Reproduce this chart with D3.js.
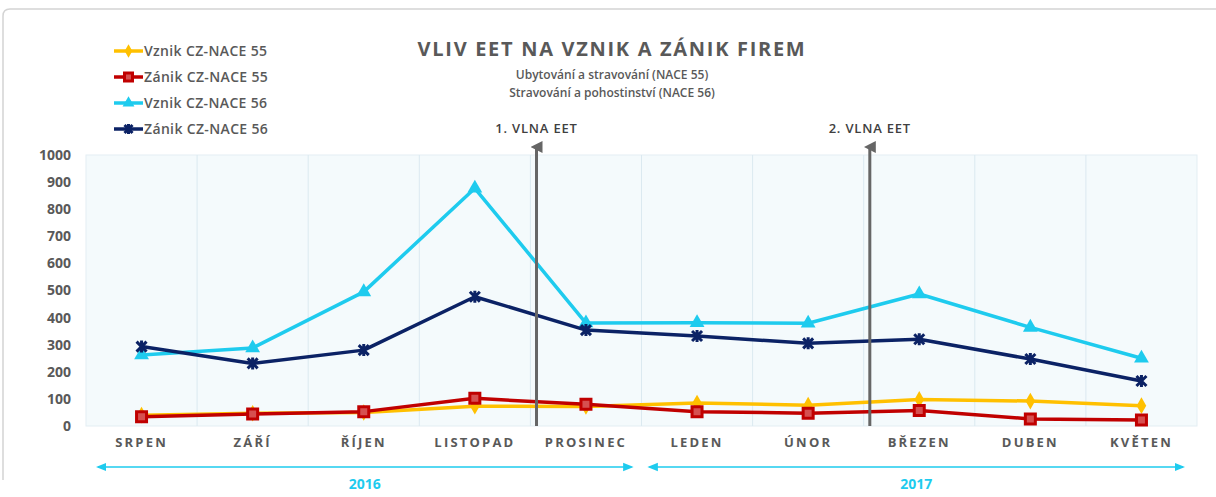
<!DOCTYPE html>
<html>
<head>
<meta charset="utf-8">
<script src="https://cdn.jsdelivr.net/npm/d3@7"></script>
<style>
  body { margin: 0; background: #fff; }
  text { font-family: "Open Sans", "Noto Sans", sans-serif; }
</style>
</head>
<body>
<div id="chart"></div>
<script>
const months = ['SRPEN', 'ZÁŘÍ', 'ŘÍJEN', 'LISTOPAD', 'PROSINEC', 'LEDEN', 'ÚNOR', 'BŘEZEN', 'DUBEN', 'KVĚTEN'];
const vznik55 = [40, 47, 50, 73, 72, 85, 77, 98, 92, 75];
const zanik55 = [34, 44, 53, 102, 80, 53, 47, 57, 26, 22];
const vznik56 = [262, 288, 495, 877, 380, 381, 379, 487, 364, 250];
const zanik56 = [293, 231, 280, 477, 354, 332, 305, 320, 247, 166];
const yTicks = [0, 100, 200, 300, 400, 500, 600, 700, 800, 900, 1000];
const seriesNames = ['Vznik CZ-NACE 55', 'Zánik CZ-NACE 55', 'Vznik CZ-NACE 56', 'Zánik CZ-NACE 56'];
const eventLabels = ['1. VLNA EET', '2. VLNA EET'];
const eventAfter = ['LISTOPAD', 'ÚNOR'];
const yearLabels = ['2016', '2017'];
const yearSpans = [['SRPEN', 'PROSINEC'], ['LEDEN', 'KVĚTEN']];

const W = 1216, H = 497;
const svg = d3.select('#chart').append('svg').attr('width', W).attr('height', H);
const defs = svg.append('defs');

// outer frame
svg.append('path')
  .attr('d', 'M3,480 L3,16 Q3,9 10,9 L1216,9')
  .attr('fill', 'none').attr('stroke', '#d4d4d4').attr('stroke-width', 1.5);

const pLeft = 86, pRight = 1197, pTop = 155, pBottom = 426;

const x = d3.scaleBand().domain(months).range([pLeft, pRight]);
const y = d3.scaleLinear().domain([0, 1000]).range([pBottom, pTop]);
const cx = m => x(m) + x.bandwidth() / 2;

// plot background
svg.append('rect')
  .attr('x', pLeft).attr('y', pTop).attr('width', pRight - pLeft).attr('height', pBottom - pTop)
  .attr('fill', '#f4fafc').attr('stroke', '#e3eef3');

// vertical grid
svg.append('g').selectAll('line').data(months.slice(1)).join('line')
  .attr('x1', d => x(d)).attr('x2', d => x(d))
  .attr('y1', pTop).attr('y2', pBottom)
  .attr('stroke', '#dbe9f0').attr('stroke-width', 1);

// y axis labels
const yAxis = d3.axisLeft(y).tickValues(yTicks).tickFormat(d3.format('d')).tickSize(0).tickPadding(15);
svg.append('g').attr('transform', `translate(${pLeft},0)`).call(yAxis)
  .call(g => g.select('.domain').remove())
  .call(g => g.selectAll('text')
    .attr('fill', '#595959').attr('font-size', 14).attr('font-weight', 'bold')
    .style('font-family', '"Open Sans", sans-serif'));

// x axis labels
const xAxis = d3.axisBottom(x).tickSize(0).tickPadding(12);
svg.append('g').attr('transform', `translate(0,${pBottom})`).call(xAxis)
  .call(g => g.select('.domain').remove())
  .call(g => g.selectAll('text')
    .attr('fill', '#595959').attr('font-size', 13).attr('font-weight', 'bold')
    .attr('letter-spacing', 2.2)
    .style('font-family', '"Open Sans", sans-serif'));

// arrow heads
defs.append('marker')
  .attr('id', 'evArrow').attr('viewBox', '0 0 10 10').attr('refX', 5).attr('refY', 5)
  .attr('markerWidth', 4).attr('markerHeight', 4).attr('orient', 'auto')
  .append('path').attr('d', 'M0,10 L5,0 L10,10 Z').attr('fill', '#666');
defs.append('marker')
  .attr('id', 'yrArrow').attr('viewBox', '0 0 10 10').attr('refX', 8).attr('refY', 5)
  .attr('markerWidth', 7).attr('markerHeight', 7).attr('orient', 'auto-start-reverse')
  .append('path').attr('d', 'M0,1 L10,5 L0,9 Z').attr('fill', '#1ecbee');

// series
const series = [
  { name: seriesNames[0], values: vznik55, color: '#ffc000', shape: 'diamond' },
  { name: seriesNames[1], values: zanik55, color: '#c00000', shape: 'square' },
  { name: seriesNames[2], values: vznik56, color: '#1ecbee', shape: 'triangle' },
  { name: seriesNames[3], values: zanik56, color: '#0b2265', shape: 'star' }
];

const line = d3.line().x((d, i) => cx(months[i])).y(d => y(d));

function drawMarker(g, s, px, py, k) {
  k = k || 1;
  if (s.shape === 'star') {
    const r = 5 * k;
    g.append('path')
      .attr('d', `M${px - r},${py - r}L${px + r},${py + r}M${px - r},${py + r}L${px + r},${py - r}M${px},${py - r - 1}L${px},${py + r + 1}`)
      .attr('stroke', s.color).attr('stroke-width', 3).attr('fill', 'none');
  } else if (s.shape === 'square') {
    g.append('path').attr('transform', `translate(${px},${py})`)
      .attr('d', d3.symbol(d3.symbolSquare, 100 * k * k)())
      .attr('fill', '#d65050').attr('stroke', s.color).attr('stroke-width', 3);
  } else if (s.shape === 'diamond') {
    g.append('path').attr('transform', `translate(${px},${py})`)
      .attr('d', d3.symbol(d3.symbolDiamond, 80 * k * k)())
      .attr('fill', s.color);
  } else {
    g.append('path').attr('transform', `translate(${px},${py})`)
      .attr('d', d3.symbol(d3.symbolTriangle, 95 * k * k)())
      .attr('fill', s.color);
  }
}

series.forEach(s => {
  const g = svg.append('g');
  g.append('path').datum(s.values).attr('d', line)
    .attr('fill', 'none').attr('stroke', s.color).attr('stroke-width', 3.5)
    .attr('stroke-linejoin', 'round');
  s.values.forEach((v, i) => drawMarker(g, s, cx(months[i]), y(v)));
});

// event vertical arrows
eventLabels.forEach((label, i) => {
  const ex = x(eventAfter[i]) + x.bandwidth() * 1.055;
  svg.append('line')
    .attr('x1', ex).attr('x2', ex).attr('y1', pBottom).attr('y2', 147)
    .attr('stroke', '#666').attr('stroke-width', 3)
    .attr('marker-end', 'url(#evArrow)');
  svg.append('text').attr('x', ex).attr('y', 133).attr('text-anchor', 'middle')
    .attr('fill', '#404040').attr('font-size', 13).attr('font-weight', 600)
    .attr('letter-spacing', 0.8)
    .text(label);
});

// title
svg.append('text').attr('x', 612).attr('y', 56).attr('text-anchor', 'middle')
  .attr('fill', '#595959').attr('font-size', 20).attr('font-weight', 'bold')
  .attr('letter-spacing', 1.7)
  .text('VLIV EET NA VZNIK A ZÁNIK FIREM');
svg.append('text').attr('x', 612).attr('y', 79).attr('text-anchor', 'middle')
  .attr('fill', '#595959').attr('font-size', 12).attr('font-weight', 600)
  .text('Ubytování a stravování (NACE 55)');
svg.append('text').attr('x', 612).attr('y', 97).attr('text-anchor', 'middle')
  .attr('fill', '#595959').attr('font-size', 12).attr('font-weight', 600)
  .text('Stravování a pohostinství (NACE 56)');

// legend
const legend = svg.append('g');
series.forEach((s, i) => {
  const ly = 51 + i * 26;
  legend.append('line').attr('x1', 114).attr('x2', 143).attr('y1', ly).attr('y2', ly)
    .attr('stroke', s.color).attr('stroke-width', 3.5);
  drawMarker(legend, s, 128.5, ly, 0.8);
  legend.append('text').attr('x', 144).attr('y', ly + 5)
    .attr('fill', '#595959').attr('font-size', 14).attr('font-weight', 600)
    .attr('letter-spacing', 0.35)
    .text(s.name);
});

// year brackets
yearLabels.forEach((label, i) => {
  const [from, to] = yearSpans[i];
  const xa = x(from) + (i === 0 ? 12 : 8);
  const xb = x(to) + x.bandwidth() - (i === 0 ? 10 : 14);
  svg.append('line').attr('x1', xa).attr('x2', xb).attr('y1', 467).attr('y2', 467)
    .attr('stroke', '#1ecbee').attr('stroke-width', 1.5)
    .attr('marker-start', 'url(#yrArrow)').attr('marker-end', 'url(#yrArrow)');
  svg.append('text').attr('x', (xa + xb) / 2).attr('y', 489).attr('text-anchor', 'middle')
    .attr('fill', '#1ecbee').attr('font-size', 14).attr('font-weight', 'bold')
    .text(label);
});
</script>
</body>
</html>
